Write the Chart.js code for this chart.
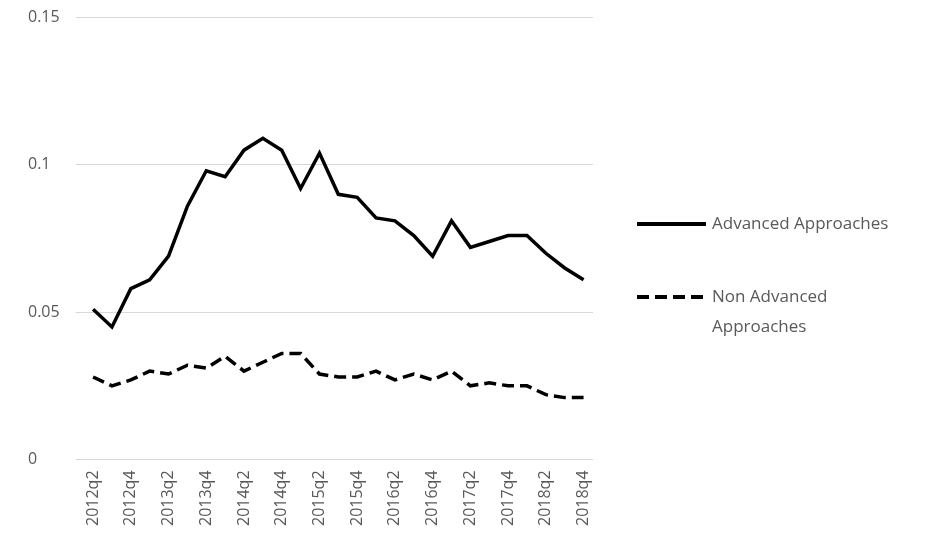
<!DOCTYPE html>
<html><head><meta charset="utf-8">
<script src="https://cdn.jsdelivr.net/npm/chart.js@4/dist/chart.umd.min.js"></script>
<style>html,body{margin:0;padding:0;background:#fff}#w{width:930px;height:551px}</style>
</head><body><div id="w"><canvas id="c"></canvas></div>
<script>
const categories=[];
for(let y=2012;y<=2018;y++){for(let q=1;q<=4;q++){if(y===2012&&q===1)continue;categories.push(y+'q'+q);}}
const advanced=[0.051,0.045,0.058,0.061,0.069,0.086,0.098,0.096,0.105,0.109,0.105,0.092,0.104,0.090,0.089,0.082,0.081,0.076,0.069,0.081,0.072,0.074,0.076,0.076,0.070,0.065,0.061];
const nonAdvanced=[0.028,0.025,0.027,0.030,0.029,0.032,0.031,0.035,0.030,0.033,0.036,0.036,0.029,0.028,0.028,0.030,0.027,0.029,0.027,0.030,0.025,0.026,0.025,0.025,0.022,0.021,0.021];
const legendLines=[["Advanced Approaches"],["Non Advanced","Approaches"]];
const font='"Open Sans", sans-serif';
const legendPlugin={id:'lg',afterDraw(ch){
  const c=ch.ctx;c.save();
  const ys=[224,297];
  ch.data.datasets.forEach((d,i)=>{
    c.strokeStyle='#000';c.lineWidth=4;c.setLineDash(d.borderDash||[]);
    c.beginPath();c.moveTo(637,ys[i]);c.lineTo(706,ys[i]);c.stroke();
    c.setLineDash([]);c.fillStyle='#595959';c.font='17px '+font;c.textBaseline='middle';
    legendLines[i].forEach((t,j)=>c.fillText(t,712,ys[i]+j*30));
  });
  c.restore();}};
new Chart(document.getElementById('c'),{
  type:'line',
  data:{labels:categories,datasets:[
    {label:'Advanced Approaches',data:advanced,borderColor:'#000',borderWidth:3.5,pointRadius:0,tension:0},
    {label:'Non Advanced Approaches',data:nonAdvanced,borderColor:'#000',borderWidth:3.5,borderDash:[12,6],pointRadius:0,tension:0}
  ]},
  options:{responsive:true,maintainAspectRatio:false,animation:false,
    layout:{padding:{left:28,right:337,top:-9,bottom:22}},
    plugins:{legend:{display:false},tooltip:{enabled:false}},
    scales:{
      x:{offset:true,grid:{display:false},border:{display:false},
        ticks:{autoSkip:false,maxRotation:90,minRotation:90,color:'#595959',font:{family:font,size:16},
          callback:function(v,i){return i%2===0?this.getLabelForValue(v):'';}}},
      y:{min:0,max:0.15,border:{display:false},grid:{color:'#d9d9d9',lineWidth:1},
        ticks:{stepSize:0.05,color:'#595959',font:{family:font,size:16},crossAlign:'far',padding:8,
          callback:v=>String(Math.round(v*100)/100)}}
    }},
  plugins:[legendPlugin]
});
</script></body></html>
